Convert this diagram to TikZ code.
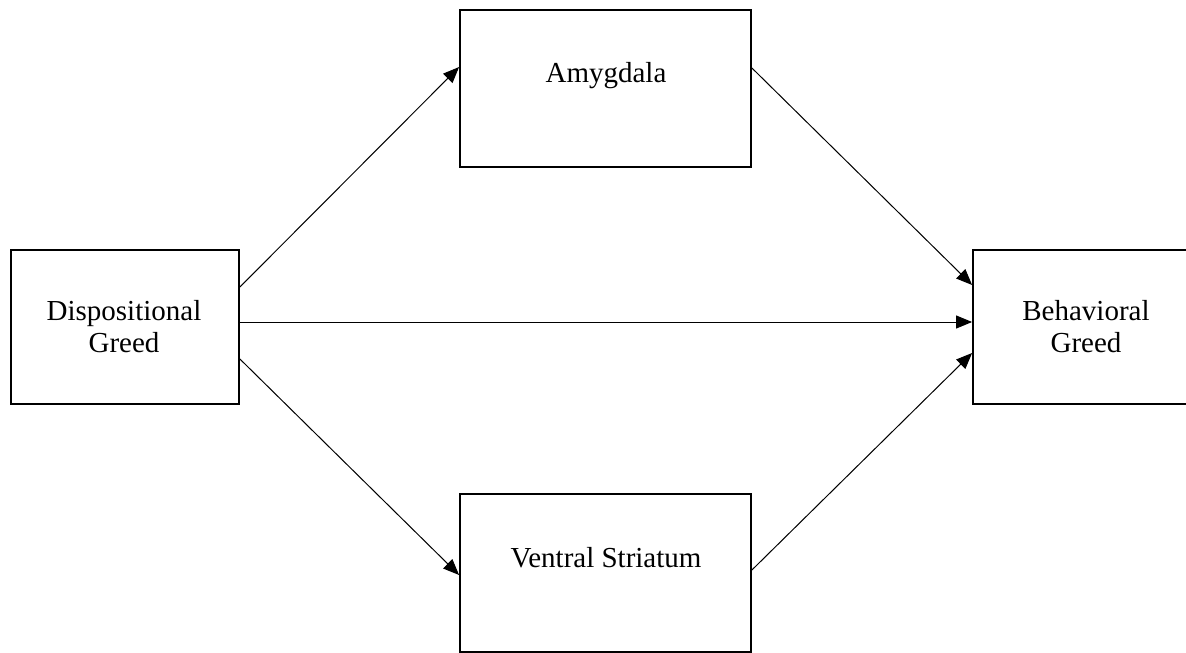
\documentclass[tikz,border=0pt]{standalone}
\usepackage{fontspec}
\setmainfont{Liberation Serif}
\usetikzlibrary{arrows.meta}
\begin{document}
\begin{tikzpicture}[x=1pt,y=-1pt,
  box/.style={draw=black,line width=1.8pt,rectangle,inner sep=0pt},
  lbl/.style={font=\fontsize{29}{32}\selectfont,align=center,inner sep=0pt,anchor=base},
  link/.style={line width=1pt,-{Triangle[length=16pt,width=13pt]}}]
\useasboundingbox (0,0) rectangle (1186,653);
\node[box,minimum width=228pt,minimum height=154pt] (disp) at (125,327) {};
\node[box,minimum width=228pt,minimum height=154pt] (beh) at (1087,327) {};
\node[box,minimum width=291pt,minimum height=157pt] (amy) at (605.5,88.5) {};
\node[box,minimum width=291pt,minimum height=158pt] (vs) at (605.5,573) {};
\node[lbl] (tamy) at (606,82) {Amygdala};
\node[lbl] (tvs) at (606,567) {Ventral Striatum};
\node[lbl] (tdisp) at (124,352) {Dispositional\\Greed};
\node[lbl] (tbeh) at (1086,352) {Behavioral\\Greed};
\draw[link] (disp.east |- 0,287) -- (amy.west |- 0,67);
\draw[link] (disp.east |- 0,322) -- (beh.west |- 0,322);
\draw[link] (disp.east |- 0,359) -- (vs.west |- 0,575);
\draw[link] (amy.east |- 0,68) -- (beh.west |- 0,285);
\draw[link] (vs.east |- 0,570) -- (beh.west |- 0,353);
\end{tikzpicture}
\end{document}
